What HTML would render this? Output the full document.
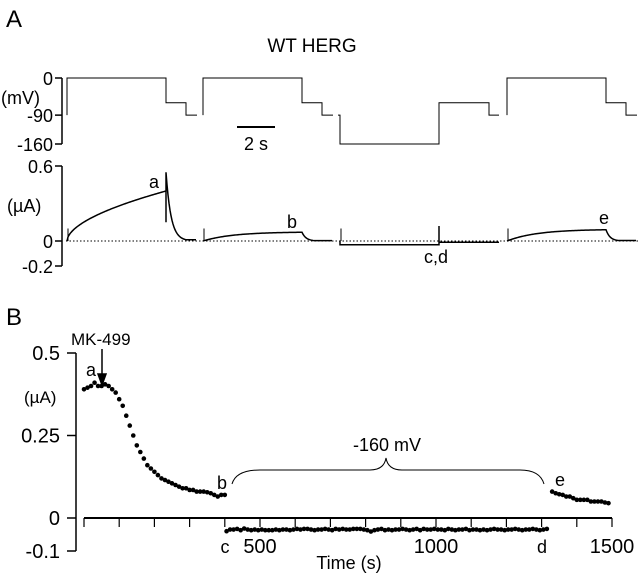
<!DOCTYPE html>
<html><head><meta charset="utf-8"><style>
body{margin:0;background:#fff;}
svg{display:block;font-family:"Liberation Sans",Arial,sans-serif;}
</style></head><body>
<svg id="fig" width="640" height="574" viewBox="0 0 640 574">
<g id="A"></g>
<g id="B"></g>
</svg>
<script>
// ---------- Panel A data ----------
const sweepStarts = [67, 203, 340, 507];
const sweepStepMV = [[0,-60,-90],[0,-60,-90],[-160,-60,-90],[0,-60,-90]];
const sweepCurrentEnd = [0.4, 0.07, -0.03, 0.09];
const sweepTail = [0.55, 0.0, -0.01, 0.0];
const vTicks = [0, -90, -160];
const iTicks = [0.6, 0, -0.2];
// ---------- Panel B data ----------
const washTimes = [0,10,20,30,40,50,60,70,80,90,100,110,120,130,140,150,160,170,180,190,200,210,220,230,240,250,260,270,280,290,300,310,320,330,340,350,360,370,380,390,400];
const washValues = [0.39,0.395,0.40,0.41,0.40,0.40,0.405,0.40,0.39,0.38,0.36,0.34,0.31,0.28,0.25,0.22,0.20,0.18,0.16,0.15,0.14,0.13,0.12,0.115,0.11,0.105,0.10,0.095,0.09,0.09,0.085,0.085,0.08,0.08,0.08,0.078,0.075,0.07,0.065,0.07,0.07];
const hypValues = [-0.04,-0.035,-0.035,-0.033,-0.037,-0.032,-0.035,-0.037,-0.035,-0.037,-0.035,-0.037,-0.037,-0.037,-0.035,-0.037,-0.035,-0.035,-0.037,-0.035,-0.033,-0.035,-0.033,-0.033,-0.035,-0.037,-0.035,-0.035,-0.033,-0.035,-0.037,-0.033,-0.035,-0.033,-0.035,-0.035,-0.033,-0.033,-0.033,-0.035,-0.037,-0.041,-0.037,-0.035,-0.033,-0.037,-0.035,-0.037,-0.035,-0.035,-0.033,-0.035,-0.037,-0.035,-0.033,-0.037,-0.033,-0.035,-0.035,-0.033,-0.035,-0.035,-0.037,-0.033,-0.035,-0.037,-0.035,-0.035,-0.033,-0.037,-0.035,-0.035,-0.037,-0.035,-0.037,-0.035,-0.033,-0.035,-0.035,-0.037,-0.035,-0.035,-0.033,-0.035,-0.037,-0.035,-0.035,-0.033,-0.035,-0.037,-0.035,-0.033];
const hypStart = 405, hypStep = 10;
const recTimes = [1330,1340,1350,1360,1370,1380,1390,1400,1410,1420,1430,1440,1450,1460,1470,1480,1490];
const recValues = [0.08,0.075,0.072,0.07,0.065,0.065,0.06,0.055,0.055,0.055,0.055,0.05,0.05,0.05,0.05,0.047,0.045];
const bYTicks = [0.5, 0.25, 0, -0.1];
const bYTickLabels = ["0.5","0.25","0","-0.1"];
const bXTickLabels = [[500,"500"],[1000,"1000"],[1500,"1500"]];

const NS="http://www.w3.org/2000/svg";
function mk(parent,tag,attrs,text){const e=document.createElementNS(NS,tag);for(const k in attrs)e.setAttribute(k,attrs[k]);if(text!==undefined)e.textContent=text;parent.appendChild(e);return e;}
const A=document.getElementById('A'), B=document.getElementById('B');

// ---------- Panel A ----------
const vY = v => 78 + (0 - v) * (66/160);
const iY = i => 241 - i * 125;
let t;
t=mk(A,'text',{x:6,y:27,'font-size':24},'A');

t=mk(A,'text',{x:312,y:52,'font-size':19,'text-anchor':'middle'},'WT HERG');

let ax=mk(A,'path',{d:`M62 ${vY(0)}V${vY(-160)}`,stroke:'#000','stroke-width':1.5,fill:'none'});

vTicks.forEach(v=>{
  const tk=mk(A,'line',{x1:55,x2:62,y1:vY(v),y2:vY(v),stroke:'#000','stroke-width':1.5});
  
  const lb=mk(A,'text',{x:53,y:vY(v)+7,'font-size':18,'text-anchor':'end'},String(v));
  
});
t=mk(A,'text',{x:1,y:104,'font-size':18},'(mV)');

t=mk(A,'line',{x1:237,x2:275,y1:127,y2:127,stroke:'#000','stroke-width':2});

t=mk(A,'text',{x:256,y:150,'font-size':18,'text-anchor':'middle'},'2 s');

sweepStarts.forEach((x0,k)=>{
  const st=sweepStepMV[k];
  const x1=x0+99, x2=x1+20, x3=x2+11;
  let d=`M${x0} ${vY(-90)}V${vY(st[0])}H${x1}V${vY(st[1])}H${x2}V${vY(st[2])}H${x3}`;
  if(k==2){d=`M${x0-2} ${vY(-90)}H${x0}V${vY(st[0])}H${x1}V${vY(st[1])}H${x1+50}V${vY(st[2])}H${x1+60}`;}
  const p=mk(A,'path',{d,stroke:'#000','stroke-width':1,fill:'none'});
  
});
ax=mk(A,'path',{d:`M62 ${iY(0.6)}V${iY(-0.2)}`,stroke:'#000','stroke-width':1.5,fill:'none'});

iTicks.forEach(v=>{
  const tk=mk(A,'line',{x1:55,x2:62,y1:iY(v),y2:iY(v),stroke:'#000','stroke-width':1.5});
  
  const lb=mk(A,'text',{x:53,y:iY(v)+7,'font-size':18,'text-anchor':'end'},String(v));
  
});
t=mk(A,'text',{x:7,y:212,'font-size':18},'(µA)');

t=mk(A,'line',{x1:66,x2:638,y1:iY(0),y2:iY(0),stroke:'#000','stroke-width':1,'stroke-dasharray':'1.5,2'});

sweepStarts.forEach((x0,k)=>{
  const end=sweepCurrentEnd[k], x1=x0+99;
  let d=`M${x0} ${iY(0)}`;
  for(let i=0;i<=99;i++){
    const f=k==2?1:(1-Math.exp(-i/30))/(1-Math.exp(-99/30));
    const f2=k==0?Math.pow(i/99,0.55):f;
    d+=`L${x0+i} ${iY(end*f2)}`;
  }
  if(k==0){
    d+=`L${x1} ${iY(sweepTail[0])}L${x1} ${iY(0.15)}L${x1} ${iY(sweepTail[0])}`;
    for(let i=0;i<=20;i++)d+=`L${x1+i} ${iY(sweepTail[0]*Math.exp(-i/5))}`;
    d+=`H${x1+30}`;
  }else if(k==2){
    d+=`L${x1} ${iY(0.12)}L${x1} ${iY(-0.01)}H${x1+60}`;
  }else{
    for(let i=0;i<=12;i++)d+=`L${x1+i} ${iY(end*Math.exp(-i/4))}`;
    d+=`H${x1+30}`;
  }
  const p=mk(A,'path',{d,stroke:'#000','stroke-width':1.5,fill:'none'});
  
  const sp=mk(A,'line',{x1:x0+1,x2:x0+1,y1:iY(0),y2:iY(0.1),stroke:'#000','stroke-width':1});
  
});
[['a',154,188],['b',292,228],['c,d',436,263],['e',604,224]].forEach(([s,x,y])=>{
  const l=mk(A,'text',{x,y,'font-size':18,'text-anchor':'middle'},s);
  
});

// ---------- Panel B ----------
const bx = s => 84 + s * (528/1500);
const by = v => 518 - v * 330;
t=mk(B,'text',{x:6,y:325,'font-size':24},'B');

ax=mk(B,'path',{d:`M76 ${by(0.5)}V${by(-0.1)}`,stroke:'#000','stroke-width':1.5,fill:'none'});

bYTicks.forEach((v,i)=>{
  const tk=mk(B,'line',{x1:67,x2:76,y1:by(v),y2:by(v),stroke:'#000','stroke-width':1.5});
  
  const lb=mk(B,'text',{x:60,y:by(v)+7,'font-size':20,'text-anchor':'end'},bYTickLabels[i]);
  
});
t=mk(B,'text',{x:24,y:403,'font-size':17},'(µA)');

ax=mk(B,'line',{x1:bx(0),x2:bx(1500),y1:by(0),y2:by(0),stroke:'#000','stroke-width':2});

for(let s=0;s<=1500;s+=100){
  const tk=mk(B,'line',{x1:bx(s),x2:bx(s),y1:by(0),y2:by(0)+9,stroke:'#000','stroke-width':1.2});
  
}
bXTickLabels.forEach(([s,l])=>{
  const lb=mk(B,'text',{x:bx(s),y:553,'font-size':20,'text-anchor':'middle'},l);
  
});
t=mk(B,'text',{x:349,y:569,'font-size':18,'text-anchor':'middle'},'Time (s)');

function dot(x,y,name){
  const c=mk(B,'circle',{cx:x,cy:y,r:2.3,fill:'#000'});
  
}
washTimes.forEach((s,i)=>dot(bx(s),by(washValues[i]),'washout-point'));
hypValues.forEach((v,i)=>dot(bx(hypStart+i*hypStep),by(v),'hyperpolarized-point'));
recTimes.forEach((s,i)=>dot(bx(s),by(recValues[i]),'recovery-point'));
t=mk(B,'text',{x:71,y:345,'font-size':17},'MK-499');

t=mk(B,'path',{d:'M102 349V382M98 374L102 385L106 374Z',stroke:'#000','stroke-width':1.5,fill:'#000'});

[['a',91,376],['b',222,489],['e',560,486],['c',225,553],['d',542,553]].forEach(([s,x,y])=>{
  const l=mk(B,'text',{x,y,'font-size':18,'text-anchor':'middle'},s);
  
});
t=mk(B,'path',{d:'M232 484Q236 470 260 470H370Q384 470 386 458Q388 470 402 470H520Q540 470 544 484',stroke:'#000','stroke-width':1,fill:'none'});

t=mk(B,'text',{x:387,y:451,'font-size':18,'text-anchor':'middle'},'-160 mV');

</script>
</body></html>
